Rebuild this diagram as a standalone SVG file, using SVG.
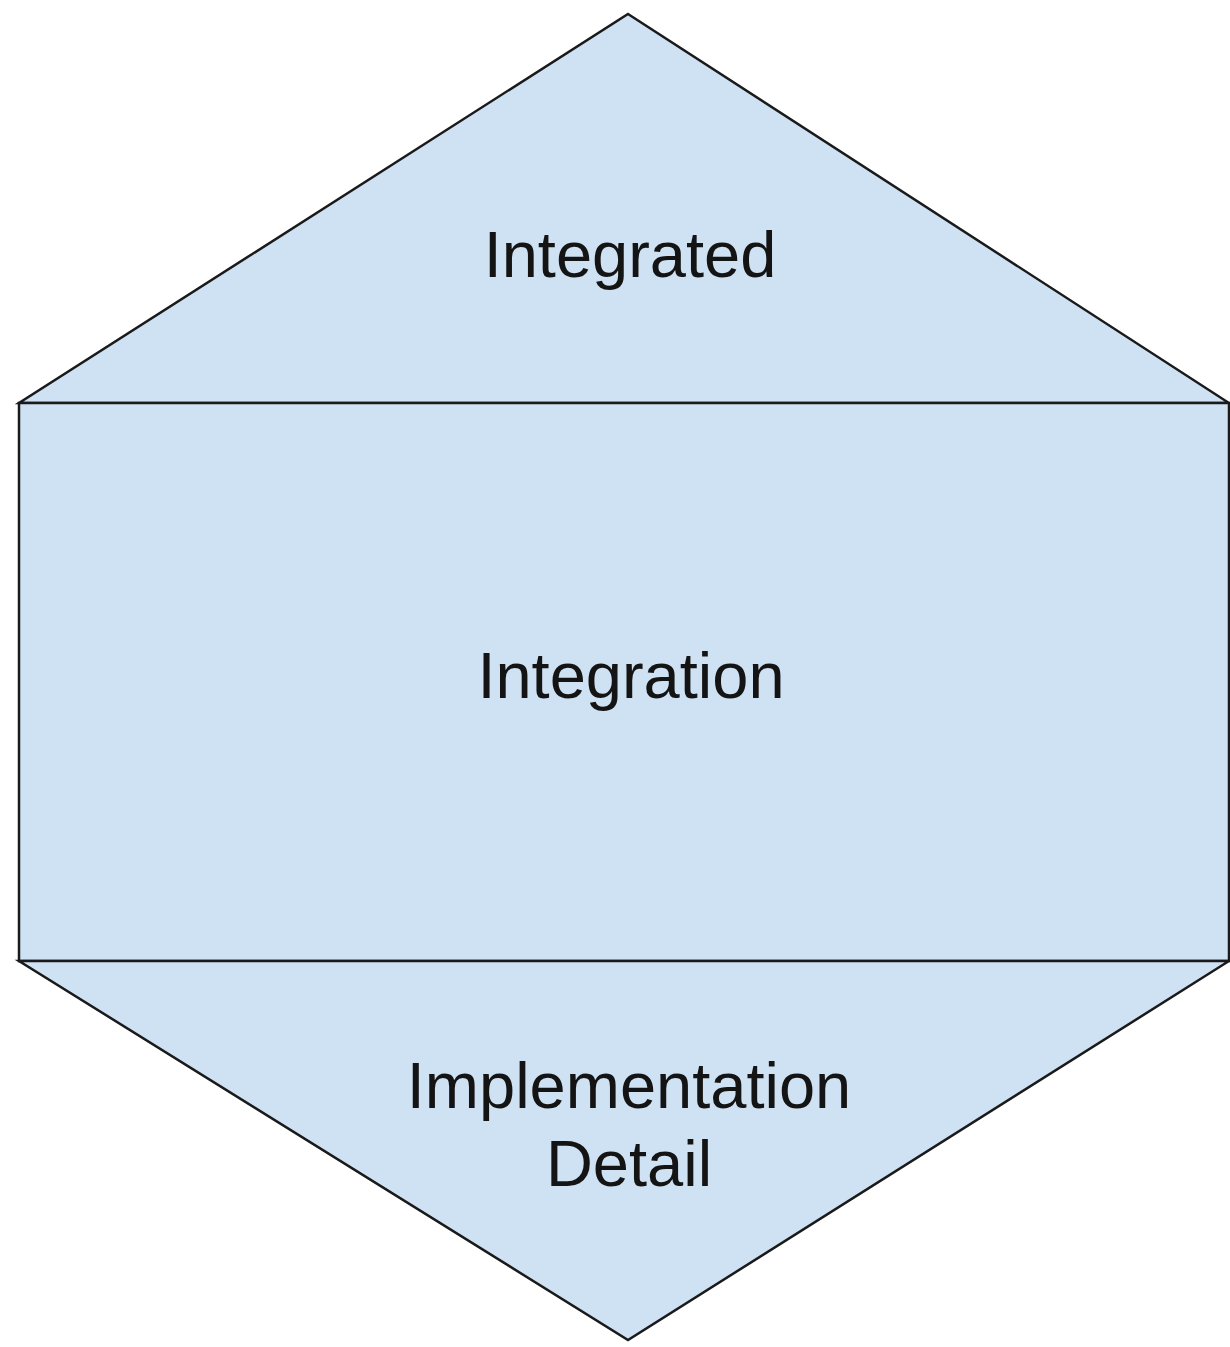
<svg xmlns="http://www.w3.org/2000/svg" width="1230" height="1347" viewBox="0 0 1230 1347">
  <style>
    .shape { fill: #cfe2f3; stroke: #1a1a1a; stroke-width: 2.5; stroke-linejoin: miter; }
    .label { font-family: "Liberation Sans", Arial, sans-serif; font-size: 65px; fill: #141414; text-anchor: middle; }
  </style>
  <rect width="1230" height="1347" fill="#ffffff"/>
  <g id="integrated">
    <polygon class="shape" points="628,14 1229,403 19,403"/>
    <text class="label" x="630" y="277">Integrated</text>
  </g>
  <g id="integration">
    <rect class="shape" x="19" y="403" width="1210" height="558"/>
    <text class="label" x="631" y="698">Integration</text>
  </g>
  <g id="implementation-detail">
    <polygon class="shape" points="19,961 1229,961 628,1340"/>
    <text class="label" x="629" y="1108">Implementation</text>
    <text class="label" x="629" y="1186">Detail</text>
  </g>
  <g id="connectors"/>
</svg>
